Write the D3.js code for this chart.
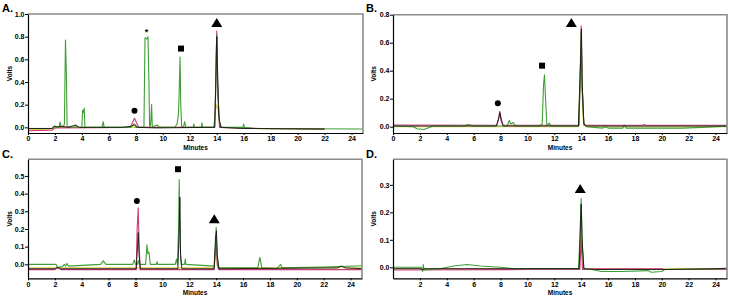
<!DOCTYPE html>
<html>
<head>
<meta charset="utf-8">
<script src="https://cdn.jsdelivr.net/npm/d3@7"></script>
<style>
  body { margin: 0; background: #fff; }
  svg { display: block; font-family: Arial, "Liberation Sans", sans-serif; }
  .tick text { font-size: 7px; font-weight: bold; fill: #000; }
  .tick line, .domain { stroke: #000; }
  .panel-label { font-size: 11px; font-weight: bold; }
  .axis-title { font-size: 6.5px; font-weight: bold; }
</style>
</head>
<body>
<div id="chart"></div>
<script>
// chromatogram traces, [minutes, volts]
const aGreen = [[0,-0.01],[1.8,-0.01],[1.95,0.01],[2.1,0.0],[2.3,0.0],[2.38,0.045],[2.45,0.01],[2.6,0.0],[2.7,0.03],[2.78,0.77],[2.85,0.45],[2.9,0.01],[3.4,0.0],[3.55,0.02],[3.7,0.0],[4.0,0.0],[4.05,0.15],[4.12,0.13],[4.17,0.17],[4.22,0.0],[5.5,0.0],[5.58,0.05],[5.65,0.0],[7.6,0.0],[7.8,0.02],[7.95,0.01],[8.0,0.0],[8.6,0.0],[8.68,0.79],[8.8,0.78],[8.9,0.80],[8.97,0.4],[9.02,0.0],[9.1,0.03],[9.17,0.2],[9.22,0.0],[9.35,0.01],[9.6,0.02],[9.75,0.0],[10.9,0.0],[11.05,0.03],[11.15,0.1],[11.2,0.25],[11.28,0.62],[11.33,0.2],[11.4,0.0],[11.55,0.01],[11.62,0.05],[11.7,0.0],[12.25,0.0],[12.3,0.03],[12.35,0.0],[12.85,0.0],[12.9,0.04],[12.95,0.0],[13.8,0.0],[13.9,0.15],[13.97,0.7],[14.02,0.82],[14.08,0.3],[14.2,0.05],[14.35,0.0],[15.95,0.0],[16.0,0.03],[16.05,0.0],[16.8,-0.01],[25,-0.015]];
const aBlack = [[0,-0.01],[1.8,-0.01],[1.95,0.01],[2.2,0.005],[2.5,0.01],[3.0,0.0],[3.5,0.02],[3.8,0.0],[7.0,0.0],[7.7,0.01],[7.9,0.03],[8.1,0.0],[9.5,-0.005],[13.85,0.0],[13.93,0.4],[14.0,0.80],[14.06,0.5],[14.15,0.1],[14.3,0.0],[16,-0.01],[22,-0.015]];
const aPink = [[0,-0.03],[1.8,-0.025],[2.0,-0.005],[7.6,0.0],[7.75,0.04],[7.9,0.08],[8.05,0.04],[8.2,0.0],[13.85,0.0],[13.95,0.5],[14.0,0.85],[14.06,0.4],[14.2,0.0],[17.3,-0.01],[22,-0.015]];
const aYellow = [[0,-0.02],[1.8,-0.015],[2,0],[13.8,0.0],[13.9,0.15],[14.0,0.2],[14.1,0.15],[14.25,0.0],[17.3,-0.012],[22,-0.018]];

const bGreen = [[0,0.005],[1.5,0.0],[1.8,-0.015],[2.3,-0.02],[2.7,-0.005],[3,0.005],[5.3,0.005],[5.6,0.015],[6,0.005],[8.5,0.005],[8.65,0.045],[8.75,0.02],[8.95,0.03],[9.1,0.005],[10.9,0.005],[11.1,0.02],[11.2,0.3],[11.27,0.37],[11.35,0.2],[11.45,0.01],[11.65,0.025],[11.75,0.005],[13.8,0.005],[13.92,0.3],[14.0,0.68],[14.07,0.3],[14.2,0.02],[14.4,0.0],[15.6,-0.01],[15.8,0.0],[16.0,-0.01],[17.1,-0.01],[17.2,0.01],[17.35,-0.01],[21.5,-0.01],[23,-0.005],[25,0.005]];
const bBlack = [[0,0.005],[7.7,0.005],[7.85,0.05],[7.95,0.1],[8.05,0.04],[8.2,0.005],[13.8,0.005],[13.95,0.45],[14.02,0.70],[14.08,0.3],[14.2,0.02],[14.4,0.005],[25,0.005]];
const bPink = [[0,0.012],[7.7,0.01],[7.85,0.06],[7.95,0.11],[8.05,0.06],[8.2,0.01],[13.85,0.01],[13.95,0.5],[14.0,0.72],[14.07,0.3],[14.2,0.01],[18.6,0.01],[18.7,0.015],[18.8,0.01],[25,0.01]];
const bYellow = [[0,0.0],[13.8,0.0],[13.88,0.25],[13.95,0.3],[14.05,0.25],[14.15,0.05],[14.3,0.0],[25,0.0]];

const cGreen = [[0,0.0],[2.1,0.0],[2.2,-0.02],[2.6,-0.01],[2.7,0.0],[2.8,-0.01],[2.9,0.005],[3.0,-0.01],[5.4,0.0],[5.6,0.02],[5.8,0.0],[7.8,0.0],[7.9,0.025],[8.0,0.0],[8.15,0.0],[8.2,0.02],[8.3,0.0],[8.75,0.0],[8.85,0.11],[8.92,0.06],[9.0,0.07],[9.1,0.0],[9.55,0.0],[9.6,0.015],[9.65,0.0],[10.95,0.0],[11.05,0.03],[11.12,0.0],[11.2,0.2],[11.25,0.48],[11.32,0.1],[11.4,0.0],[11.65,0.0],[11.7,0.03],[11.75,0.0],[13.85,-0.01],[13.95,0.1],[14.0,0.21],[14.07,0.05],[14.2,-0.02],[17.1,-0.02],[17.25,0.04],[17.4,-0.02],[18.5,-0.025],[18.8,0.0],[18.9,-0.02],[22,-0.015],[25,-0.008]];
const cBlack = [[0,-0.025],[2.0,-0.025],[2.2,-0.015],[2.4,-0.025],[8.05,-0.025],[8.15,0.1],[8.2,0.18],[8.27,0.05],[8.35,-0.025],[11.15,-0.025],[11.25,0.2],[11.3,0.38],[11.35,0.05],[11.45,-0.025],[13.85,-0.025],[13.95,0.15],[14.02,0.19],[14.08,0.05],[14.2,-0.025],[23,-0.02],[23.3,-0.01],[23.6,-0.02],[25,-0.025]];
const cPink = [[0,-0.03],[2.0,-0.03],[2.2,-0.02],[2.5,-0.03],[8.05,-0.03],[8.12,0.2],[8.2,0.32],[8.27,0.1],[8.35,-0.03],[13.85,-0.03],[13.95,0.1],[14.0,0.15],[14.08,0.0],[14.2,-0.03],[25,-0.03]];
const cYellow = [[0,-0.02],[13.85,-0.02],[13.95,0.06],[14.0,0.1],[14.1,-0.02],[23.2,-0.02],[23.4,-0.012],[23.6,-0.02],[25,-0.02]];

const dGreen = [[0,0.0],[2.1,0.0],[2.2,-0.015],[2.25,0.01],[2.3,-0.01],[3.5,-0.005],[4.5,0.005],[5.5,0.01],[6.5,0.005],[8,0.0],[9,-0.005],[13.8,-0.005],[13.9,0.1],[14.0,0.25],[14.08,0.08],[14.2,-0.005],[15,-0.01],[15.5,-0.015],[17,-0.015],[19,-0.012],[19.2,-0.018],[20,-0.015],[20.2,-0.008],[25,-0.005]];
const dBlack = [[0,-0.005],[2.1,-0.005],[2.2,-0.01],[2.3,-0.005],[10,-0.005],[13.85,-0.005],[13.95,0.15],[14.0,0.23],[14.07,0.1],[14.2,-0.005],[15,-0.008],[20,-0.008],[24,-0.005],[25,-0.003]];
const dPink = [[0,-0.01],[10,-0.008],[13.9,-0.008],[14.0,0.1],[14.1,-0.008],[15,-0.005],[20,-0.005],[20.2,-0.008],[25,-0.008]];
const dYellow = [[0,-0.005],[13.85,-0.005],[13.95,0.1],[14.05,0.12],[14.15,-0.005],[25,-0.005]];

// peak markers: [minutes, volts, shape]
const aMarks = [[7.9,0.147,"circle"],[8.8,0.85,"star"],[11.35,0.695,"square"],[14.0,0.92,"triangle"]];
const bMarks = [[7.8,0.167,"circle"],[11.09,0.436,"square"],[13.27,0.74,"triangle"]];
const cMarks = [[8.1,0.358,"circle"],[11.16,0.538,"square"],[13.86,0.255,"triangle"]];
const dMarks = [[13.93,0.285,"triangle"]];

// tick values
const xTicksFull = d3.range(0, 25, 2);
const xTicksD = d3.range(2, 25, 2);
const aYTicks = [0, 0.2, 0.4, 0.6, 0.8, 1.0];
const bYTicks = [0, 0.2, 0.4, 0.6, 0.8];
const cYTicks = [0, 0.1, 0.2, 0.3, 0.4, 0.5];
const dYTicks = [0, 0.1, 0.2, 0.3];

const colors = { yellow: "#ddd040", pink: "#cc3a7a", green: "#3f9e36", black: "#151515" };

const panels = [
  { label: "A.", lx: 2, ly: 12, box: [28, 363, 14, 133], yDom: [-0.05, 1.0], yTicks: aYTicks, xTicks: xTicksFull,
    traces: { yellow: aYellow, pink: aPink, green: aGreen, black: aBlack }, marks: aMarks },
  { label: "B.", lx: 366, ly: 12, box: [393, 727, 14.7, 133], yDom: [-0.045, 0.8], yTicks: bYTicks, xTicks: xTicksFull,
    traces: { yellow: bYellow, pink: bPink, green: bGreen, black: bBlack }, marks: bMarks },
  { label: "C.", lx: 2, ly: 158, box: [28, 362, 159.3, 278.3], yDom: [-0.079, 0.594], yTicks: cYTicks, xTicks: xTicksFull,
    traces: { yellow: cYellow, pink: cPink, green: cGreen, black: cBlack }, marks: cMarks },
  { label: "D.", lx: 366, ly: 158, box: [393, 727, 159.3, 278.3], yDom: [-0.04, 0.393], yTicks: dYTicks, xTicks: xTicksD,
    traces: { yellow: dYellow, pink: dPink, green: dGreen, black: dBlack }, marks: dMarks },
];

const svg = d3.select("#chart").append("svg").attr("width", 730).attr("height", 300);

panels.forEach((p, i) => {
  const [l, r, t, b] = p.box;
  const x = d3.scaleLinear().domain([0, 24.85]).range([l, r]);
  const y = d3.scaleLinear().domain(p.yDom).range([b, t]);
  const g = svg.append("g");
  const clipId = "clip" + i;

  g.append("clipPath").attr("id", clipId)
    .append("rect").attr("x", l).attr("y", t).attr("width", r - l).attr("height", b - t);

  const line = d3.line().x(d => x(d[0])).y(d => y(d[1]));
  const traces = g.append("g").attr("clip-path", `url(#${clipId})`);
  ["yellow", "pink", "green", "black"].forEach(k => {
    traces.append("path")
      .datum(p.traces[k])
      .attr("d", line)
      .attr("fill", "none")
      .attr("stroke", colors[k])
      .attr("stroke-width", k === "black" ? 0.9 : 1.1)
      .attr("stroke-linejoin", "round");
  });

  // gray frame top/right
  g.append("path")
    .attr("d", `M${l},${t}H${r}V${b}`)
    .attr("fill", "none").attr("stroke", "#8c8c8c").attr("stroke-width", 1.6);

  g.append("g").attr("transform", `translate(${l},0)`)
    .call(d3.axisLeft(y).tickValues(p.yTicks).tickFormat(d3.format(".1f")).tickSize(3).tickSizeOuter(0).tickPadding(0.5))
    .call(s => s.select(".domain").attr("stroke-width", 1.2));

  g.append("g").attr("transform", `translate(0,${b})`)
    .call(d3.axisBottom(x).tickValues(p.xTicks).tickFormat(d3.format("d")).tickSize(2).tickSizeOuter(0).tickPadding(1.5))
    .call(s => s.select(".domain").attr("stroke-width", 1.2));

  // markers
  p.marks.forEach(([mx, my, shape]) => {
    const cx = x(mx), cy = y(my);
    if (shape === "circle") {
      g.append("circle").attr("cx", cx).attr("cy", cy).attr("r", 3).attr("fill", "#000");
    } else if (shape === "square") {
      g.append("rect").attr("x", cx - 3).attr("y", cy - 3).attr("width", 6).attr("height", 6).attr("fill", "#000");
    } else if (shape === "triangle") {
      g.append("path").attr("d", `M${cx},${cy - 5}L${cx + 5.5},${cy + 4}L${cx - 5.5},${cy + 4}Z`).attr("fill", "#000");
    } else {
      g.append("text").attr("x", cx).attr("y", cy + 4).attr("text-anchor", "middle")
        .attr("font-size", 9).attr("font-weight", "bold").text("*");
    }
  });

  svg.append("text").attr("class", "panel-label").attr("x", p.lx).attr("y", p.ly).text(p.label);
  svg.append("text").attr("class", "axis-title")
    .attr("transform", `translate(${p.lx + 10},${(t + b) / 2}) rotate(-90)`)
    .attr("text-anchor", "middle").text("Volts");
  svg.append("text").attr("class", "axis-title")
    .attr("x", (l + r) / 2).attr("y", b + 16.5)
    .attr("text-anchor", "middle").text("Minutes");
});
</script>
</body>
</html>
